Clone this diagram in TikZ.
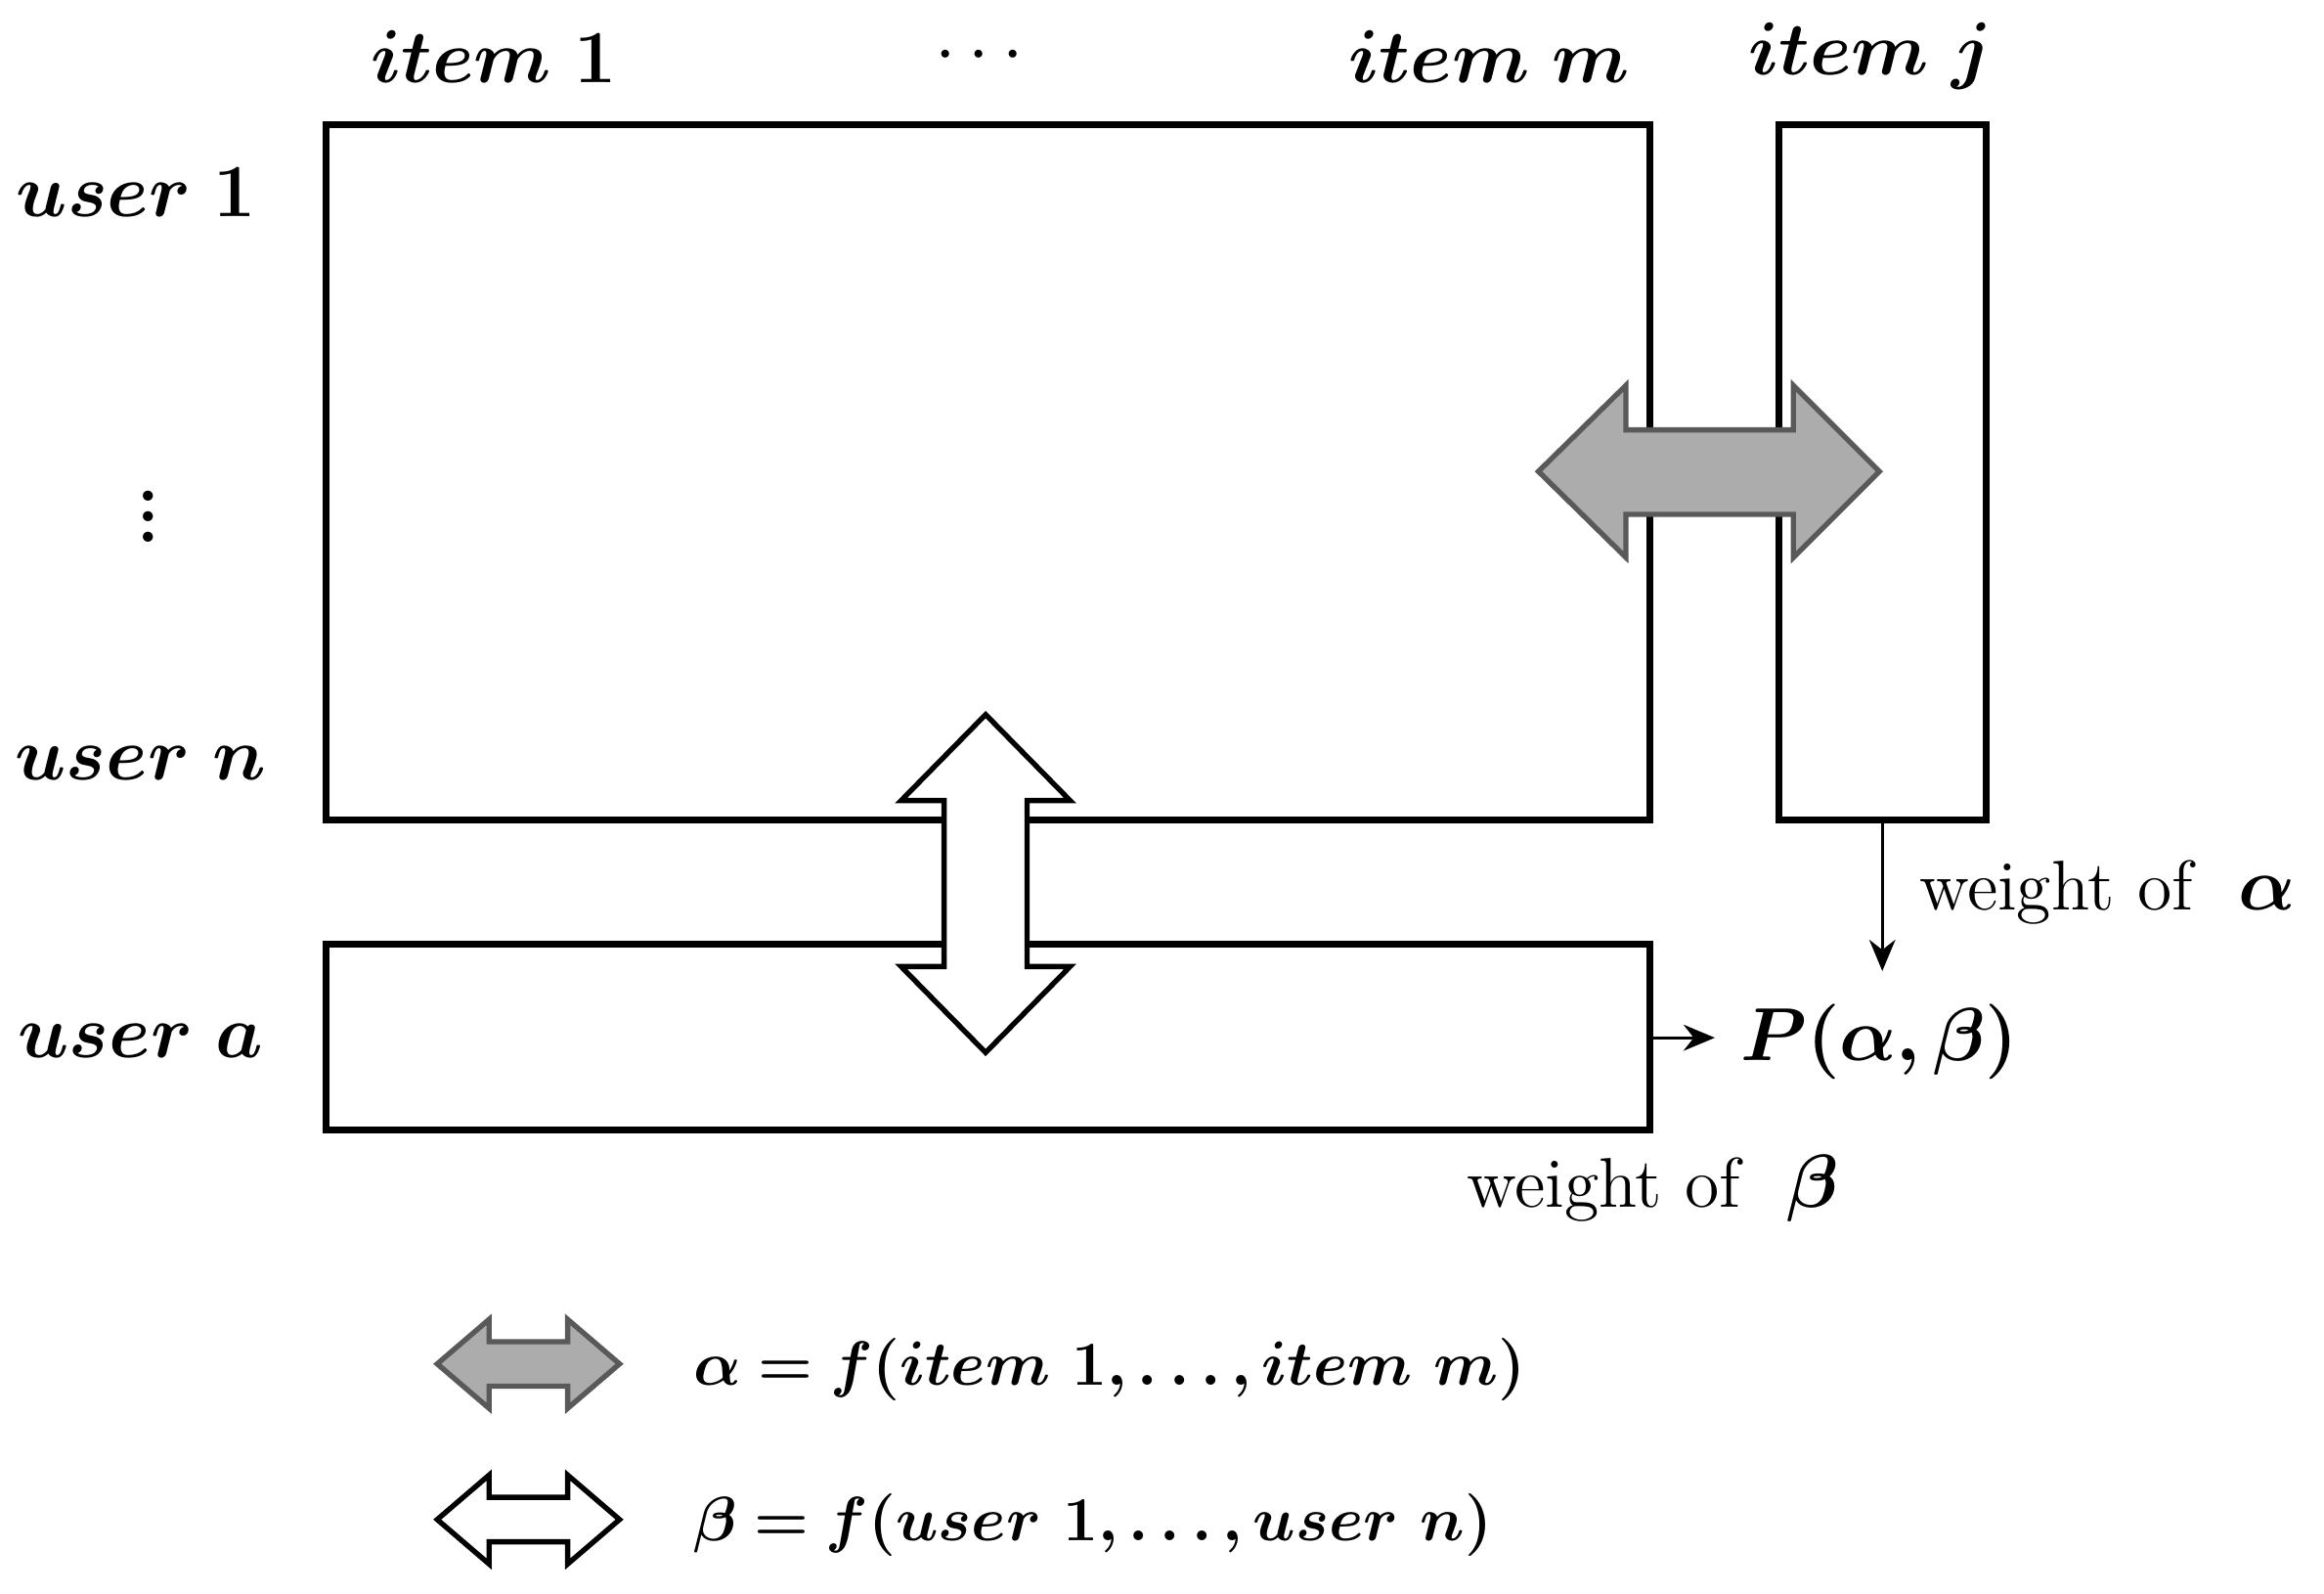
\documentclass[tikz,border=0pt]{standalone}
\usepackage{amsmath,bm}
\usetikzlibrary{arrows.meta}
\begin{document}
\begin{tikzpicture}[x=0.01cm,y=-0.01cm,
  box/.style={draw,line width=1.3pt},
  lbl/.style={font=\fontsize{13.5}{16}\selectfont,inner sep=0pt},
  dbl/.style={draw,line width=1pt,line join=miter},
  thin/.style={line width=0.6pt,-{Stealth[length=6pt,width=5pt]}}]
\useasboundingbox (0,0) rectangle (1568,1075);
% boxes
\draw[box] (220,84) rectangle (1113,553);
\draw[box] (1200,84) rectangle (1340,553);
\draw[box] (220,637) rectangle (1113,762);
\coordinate (jbot) at (1270,553);
\coordinate (jend) at (1270,655);
\coordinate (abr) at (1113,700);
\coordinate (aend) at (1157,700);
% gray horizontal double arrow
\draw[dbl,fill=gray!65,draw=gray!70!black] (1038,318) -- (1097,260) -- (1097,290) -- (1210,290) -- (1210,260) -- (1268,318) -- (1210,376) -- (1210,347) -- (1097,347) -- (1097,376) -- cycle;
% white vertical double arrow
\draw[dbl,fill=white] (665,482) -- (722,540) -- (693,540) -- (693,652) -- (722,652) -- (665,710) -- (608,652) -- (637,652) -- (637,540) -- (608,540) -- cycle;
% small arrows
\draw[thin] (jbot) -- (jend);
\draw[thin] (abr) -- (aend);
% labels
\node[lbl] (i1) at (333,38) {$\bm{item\ 1}$};
\node[lbl] (idots) at (665,38) {$\cdots$};
\node[lbl] (im) at (1005,38) {$\bm{item\ m}$};
\node[lbl] (ij) at (1262,38) {$\bm{item\ j}$};
\node[lbl] (u1) at (92,130) {$\bm{user\ 1}$};
\node[lbl] (ud) at (100,338) {$\bm{\vdots}$};
\node[lbl] (un) at (95,515) {$\bm{user\ n}$};
\node[lbl] (ua) at (95,702) {$\bm{user\ a}$};
\node[lbl] (wa) at (1422,602) {weight of~ $\bm{\alpha}$};
\node[lbl] (p) at (1268,703) {$\bm{P(\alpha,\beta)}$};
\node[lbl] (wb) at (1115,802) {weight of~ $\bm{\beta}$};
% legend
\draw[dbl,fill=gray!65,draw=gray!70!black] (295,920) -- (330,890) -- (330,905) -- (383,905) -- (383,890) -- (418,920) -- (383,950) -- (383,935) -- (330,935) -- (330,950) -- cycle;
\draw[dbl,fill=white] (295,1025) -- (330,995) -- (330,1010) -- (383,1010) -- (383,995) -- (418,1025) -- (383,1055) -- (383,1040) -- (330,1040) -- (330,1055) -- cycle;
\node[lbl,anchor=west,font=\fontsize{12.6}{15}\selectfont] (la) at (467,924) {$\bm{\alpha = f(item\ 1,\ldots, item\ m)}$};
\node[lbl,anchor=west,font=\fontsize{12.6}{15}\selectfont] (lb) at (467,1029) {$\bm{\beta = f(user\ 1,\ldots, user\ n)}$};
\end{tikzpicture}
\end{document}
